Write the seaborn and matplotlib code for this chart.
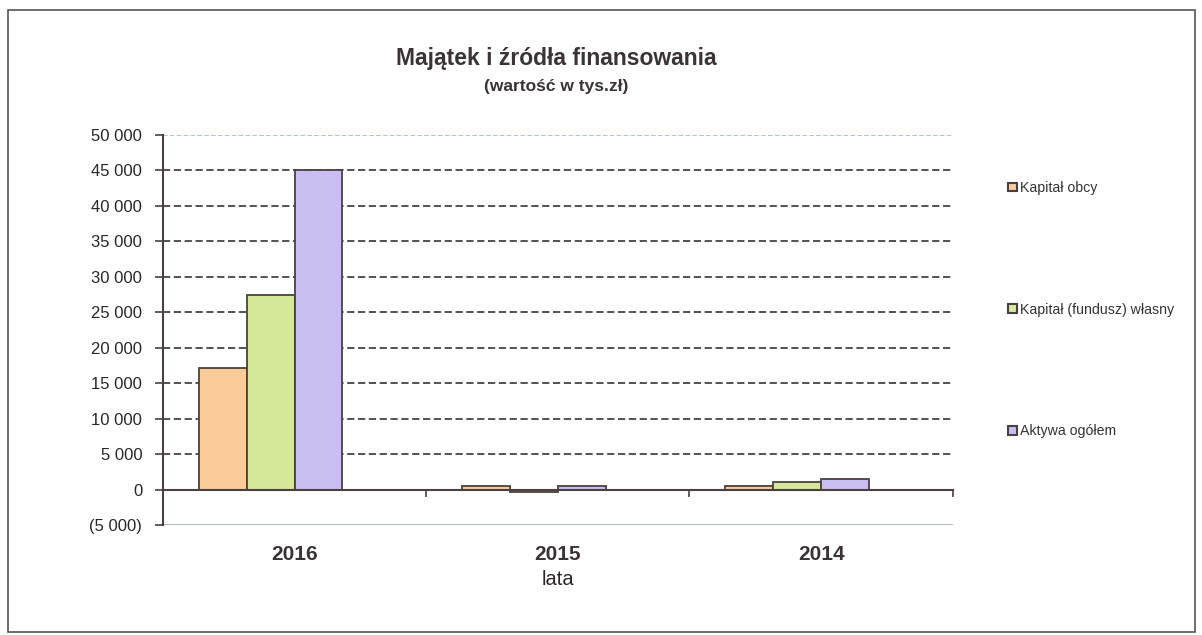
import matplotlib
matplotlib.use("Agg")
import matplotlib.pyplot as plt
from matplotlib.patches import Rectangle
from matplotlib.ticker import FuncFormatter, FixedLocator
import seaborn as sns
import pandas as pd

# Values in thousands of PLN
years = ["2016", "2015", "2014"]
kapital_obcy = [17200, 470, 470]
kapital_wlasny = [27500, -350, 1000]
aktywa_ogolem = [45000, 470, 1450]
series_names = ["Kapitał obcy", "Kapitał (fundusz) własny", "Aktywa ogółem"]
colors = ["#FCCB9A", "#D6E99A", "#CABDF2"]

rows = []
for name, vals in zip(series_names, [kapital_obcy, kapital_wlasny, aktywa_ogolem]):
    for y, v in zip(years, vals):
        rows.append({"rok": y, "seria": name, "wartosc": v})
df = pd.DataFrame(rows)

sns.set_theme(style="white")
plt.rcParams["font.family"] = ["Liberation Sans", "DejaVu Sans"]

fig = plt.figure(figsize=(12.02, 6.35), dpi=100)
ax = fig.add_axes([0.1356, 0.1732, 0.657, 0.6142])

edge = "#4a4040"
# an extra empty slot in each group leaves room on the right like the spreadsheet layout
hue_slots = series_names + [" "]
sns.barplot(data=df, x="rok", y="wartosc", hue="seria", order=years,
            hue_order=hue_slots, palette=colors + ["#ffffff"], width=0.727,
            saturation=1, edgecolor=edge, linewidth=1.3, ax=ax, legend=False,
            zorder=3)

ax.set_ylim(-5000, 50000)
ax.set_xlim(-0.5, 2.5)
ax.set_yticks(range(-5000, 50001, 5000))

def fmt(v, pos):
    s = f"{abs(int(v)):,}".replace(",", " ")
    return f"({s})" if v < 0 else s
ax.yaxis.set_major_formatter(FuncFormatter(fmt))

# dashed gridlines
for v in range(5000, 50000, 5000):
    ax.axhline(v, color="#444444", lw=1.3, ls=(0, (4, 2)), zorder=1)
ax.axhline(50000, color="#9fb0c2", lw=1.1, ls=(0, (3, 1.5)), zorder=1)
ax.axhline(-5000, color="#a9b9cb", lw=1.3, zorder=1)

for s in ["top", "right"]:
    ax.spines[s].set_visible(False)
ax.spines["left"].set_color(edge)
ax.spines["left"].set_linewidth(1.5)
ax.spines["bottom"].set_position(("data", 0))
ax.spines["bottom"].set_color(edge)
ax.spines["bottom"].set_linewidth(1.5)
ax.spines["bottom"].set_zorder(4)

ax.tick_params(axis="y", which="major", direction="out", length=6, width=1.2,
               color=edge, labelsize=12, labelcolor="#2a2626", left=True, pad=9)
ax.tick_params(axis="x", which="major", length=0, pad=40, labelsize=15,
               labelcolor="#3a3434")
for lbl in ax.get_xticklabels():
    lbl.set_fontweight("bold")
ax.xaxis.set_minor_locator(FixedLocator([0.5, 1.5, 2.5]))
ax.tick_params(axis="x", which="minor", direction="out", length=5, width=1.2,
               color=edge, bottom=True)

ax.set_xlabel("lata", fontsize=14.5, color="#2a2626", labelpad=4)
ax.set_ylabel("")

fig.text(0.4625, 0.897, "Majątek i źródła finansowania", ha="center",
         fontsize=16.5, fontweight="bold", color="#3a3434")
fig.text(0.4625, 0.857, "(wartość w tys.zł)", ha="center",
         fontsize=12.5, fontweight="bold", color="#3a3434")

handles = [Rectangle((0, 0), 1, 1, facecolor=c, edgecolor=edge, lw=1.5) for c in colors]
fig.legend(handles, series_names, loc="upper left", bbox_to_anchor=(0.828, 0.735),
           frameon=False, fontsize=10.2, handlelength=0.65, handleheight=0.55,
           handletextpad=0.2, labelspacing=7.6, labelcolor="#333333")

# outer frame
fig.add_artist(Rectangle((0.007, 0.005), 0.987, 0.98, transform=fig.transFigure,
                         fill=False, edgecolor="#555555", lw=1.2))

fig.savefig("out.png", dpi=100, facecolor="white")
